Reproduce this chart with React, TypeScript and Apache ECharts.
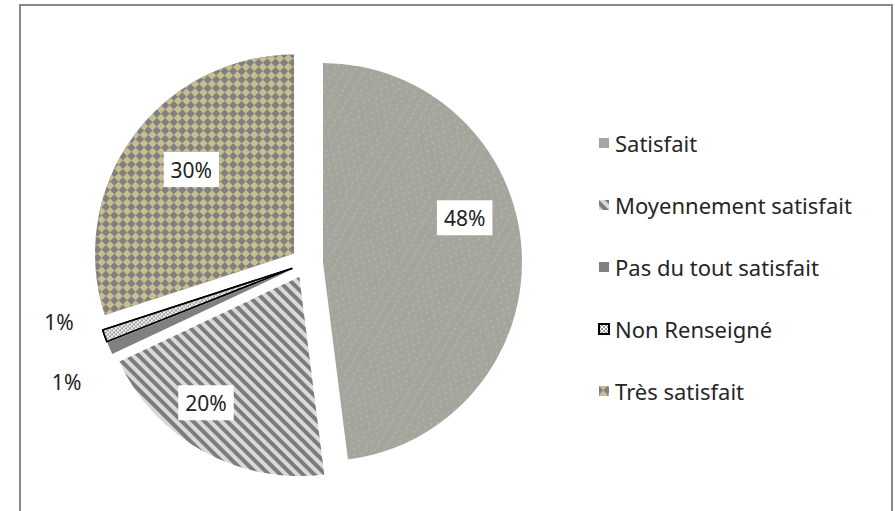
import React, { useEffect, useRef } from "react";
import * as echarts from "echarts";

const categories = [
  "Satisfait",
  "Moyennement satisfait",
  "Pas du tout satisfait",
  "Non Renseigné",
  "Très satisfait",
];
const values = [48, 20, 1, 1, 30];

const baseColors = ["#a4a4a1", "#d9d9d9", "#808080", "#ffffff", "#808080"];

const NO_DECAL = {
  symbol: "rect",
  symbolSize: 1,
  color: "rgba(0,0,0,0)",
  dashArrayX: [1, 0],
  dashArrayY: [1, 0],
};

const decals: any[] = [
  {
    symbol: "circle",
    symbolSize: 1,
    color: "rgba(196,192,112,0.75)",
    dashArrayX: [[1.5, 6], [0, 3.75, 1.5, 2.25]],
    dashArrayY: [1.5, 3],
  },
  {
    symbol: "rect",
    symbolSize: 1,
    color: "#7c7c7c",
    dashArrayX: [1, 0],
    dashArrayY: [3.4, 3.6],
    rotation: Math.PI / 4,
  },
  NO_DECAL,
  {
    symbol: "circle",
    symbolSize: 1,
    color: "#8a8a8a",
    dashArrayX: [[1.5, 1.5], [0, 1.5, 1.5, 0]],
    dashArrayY: [1.5, 0],
  },
  {
    symbol: "rect",
    symbolSize: 1,
    color: "#c8bd8e",
    dashArrayX: [[6, 6], [0, 6, 6, 0]],
    dashArrayY: [6, 0],
  },
];

// fine shifts of the data labels from the positions ECharts computes
const labelShift = [
  [-6, -35],
  [-22, -4],
  [-8, 20],
  [-10, -17],
  [17, 3],
];

const FONT = "Noto Sans";

export default function App() {
  const ref = useRef<HTMLDivElement>(null);
  useEffect(() => {
    if (!ref.current) return;
    const chart = echarts.init(ref.current, undefined, { renderer: "svg" });
    const center = [307, 263];
    const mainData = categories.map((name, i) => ({
      name,
      value: values[i],
      selected: true,
      itemStyle: {
        color: baseColors[i],
        decal: decals[i],
        borderColor: i === 3 ? "#000000" : "transparent",
        borderWidth: i === 3 ? 1.5 : 0,
      },
    }));
    const labelData = categories.map((name, i) => ({
      name,
      value: values[i],
      selected: true,
      itemStyle: { color: "rgba(0,0,0,0)", decal: NO_DECAL },
      label:
        values[i] < 5
          ? {
              position: "outside",
              backgroundColor: "transparent",
              padding: 0,
            }
          : { position: "inside" },
      labelLine: { show: false, length: 8, length2: 8 },
    }));
    chart.setOption({
      animation: false,
      aria: { enabled: true, decal: { show: true } },
      backgroundColor: "#ffffff",
      legend: {
        orient: "vertical",
        left: 593,
        top: 127,
        itemWidth: 10,
        itemHeight: 10,
        itemGap: 40,
        icon: "rect",
        selectedMode: false,
        data: categories,
        textStyle: {
          fontFamily: FONT,
          fontSize: 22,
          color: "#262626",
          padding: [0, 0, 0, 1],
        },
      },
      graphic: [
        {
          type: "rect",
          shape: { x: 20, y: 5, width: 872, height: 530 },
          style: { fill: "none", stroke: "#888888", lineWidth: 2 },
          silent: true,
          z: -1,
        },
      ],
      series: [
        {
          type: "pie",
          center,
          radius: 199,
          startAngle: 90,
          clockwise: true,
          selectedMode: "multiple",
          selectedOffset: 16,
          label: { show: false },
          labelLine: { show: false },
          emphasis: { disabled: true },
          data: mainData,
        },
        {
          type: "pie",
          center,
          radius: [91, 199],
          startAngle: 90,
          clockwise: true,
          selectedMode: "multiple",
          selectedOffset: 16,
          silent: true,
          emphasis: { disabled: true },
          avoidLabelOverlap: true,
          percentPrecision: 0,
          label: {
            show: true,
            formatter: "{d}%",
            fontFamily: FONT,
            fontSize: 21,
            color: "#222222",
            backgroundColor: "#ffffff",
            padding: [8, 7, 6, 7],
          },
          labelLayout: (p: any) => {
            const s = labelShift[p.dataIndex] || [0, 0];
            return { dx: s[0], dy: s[1] };
          },
          data: labelData,
        },
      ],
    });
    return () => chart.dispose();
  }, []);
  return (
    <div
      ref={ref}
      style={{ position: "fixed", left: 0, top: 0, width: 895, height: 511 }}
    />
  );
}
